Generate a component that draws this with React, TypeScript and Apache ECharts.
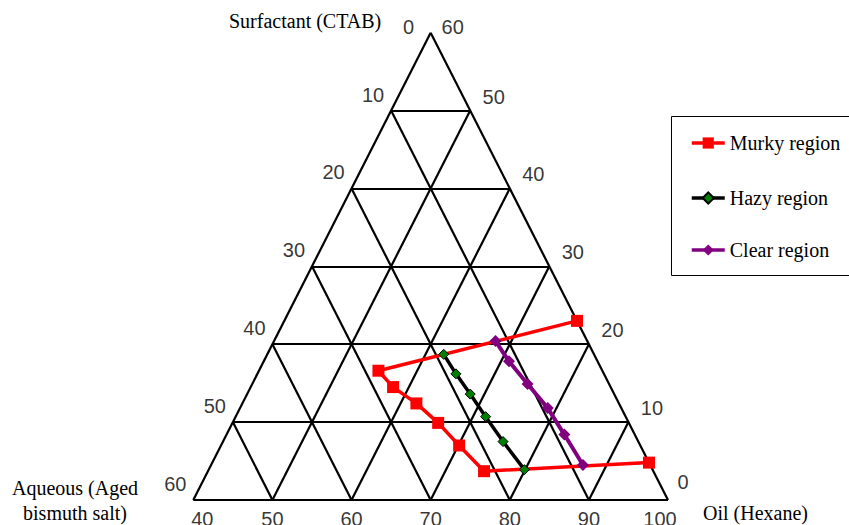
import { useEffect, useRef } from "react";
import * as echarts from "echarts";

// Tick values along each side of the partial ternary window
const aqueousTicks = [0, 10, 20, 30, 40, 50, 60];
const surfactantTicks = [0, 10, 20, 30, 40, 50, 60];
const oilTicks = [40, 50, 60, 70, 80, 90, 100];

// Phase boundaries, wt% (surfactant, oil, aqueous)
const murkySurfactant = [23.0, 16.6, 14.5, 12.4, 9.9, 7.0, 3.7, 4.8];
const murkyOil = [77.0, 55.1, 58.0, 62.0, 66.0, 70.1, 74.9, 95.2];
const murkyAqueous = [0.0, 28.3, 27.5, 25.6, 24.1, 22.9, 21.4, 0.0];

const hazySurfactant = [18.7, 16.2, 13.6, 10.7, 7.5, 3.9];
const hazyOil = [62.3, 65.1, 68.2, 71.6, 75.4, 79.9];
const hazyAqueous = [19.0, 18.7, 18.2, 17.7, 17.1, 16.2];

const clearSurfactant = [20.4, 17.8, 14.9, 11.8, 8.4, 4.5];
const clearOil = [68.0, 71.0, 74.8, 78.9, 82.7, 87.0];
const clearAqueous = [11.6, 11.2, 10.3, 9.3, 8.9, 8.5];

const seriesNames = ["Murky region", "Hazy region", "Clear region"];

// window: oil 40..100, surfactant 0..60, aqueous 0..60
const OIL_MIN = 40;
const SPAN = 60;

// ternary (surfactant, aqueous) -> cartesian (x along base, y = surfactant)
function project(surf: number, aq: number): [number, number] {
  return [SPAN - aq - surf / 2, surf];
}

function points(s: number[], o: number[], a: number[]) {
  return s.map((v, i) => {
    const aq = 100 - v - o[i];
    return project(v, Number.isFinite(a[i]) ? a[i] : aq);
  });
}

const NUM_FONT = "'Liberation Sans', Arial, sans-serif";
const SERIF = "'Liberation Serif', 'Times New Roman', serif";

export default function App() {
  const ref = useRef<HTMLDivElement>(null);

  useEffect(() => {
    if (!ref.current) return;
    const chart = echarts.init(ref.current, undefined, { renderer: "svg" });

    // triangle outline and inner grid
    const segs: [number, number][][] = [];
    segs.push([project(0, SPAN), project(0, 0)]);
    segs.push([project(0, 0), project(SPAN, 0)]);
    segs.push([project(SPAN, 0), project(0, SPAN)]);
    for (let k = 1; k < 6; k++) {
      const v = k * 10;
      // constant surfactant
      segs.push([project(v, SPAN - v), project(v, 0)]);
      // constant aqueous
      segs.push([project(0, v), project(SPAN - v, v)]);
      // constant oil
      const oil = OIL_MIN + v;
      const aqBase = 100 - oil;
      segs.push([project(0, aqBase), project(SPAN - v, 0)]);
    }

    // tick labels
    const labelItems: any[] = [];
    aqueousTicks.forEach((a) => {
      const off = a === 0 ? [-22, -6] : [-18, -16];
      labelItems.push({ value: project(SPAN - a, a), name: String(a), label: { offset: off } });
    });
    surfactantTicks.forEach((s) => {
      const off = s === SPAN ? [22, -6] : s === 0 ? [15, -18] : [23.5, -14];
      labelItems.push({ value: project(s, 0), name: String(s), label: { offset: off } });
    });
    oilTicks.forEach((o, i) => {
      const aq = 100 - o;
      const dx = i === 0 ? 9 : i === oilTicks.length - 1 ? -8 : 0;
      labelItems.push({ value: project(0, aq), name: String(o), label: { offset: [dx, 19] } });
    });

    const legendTops = [133, 188, 240];

    chart.setOption({
      animation: false,
      grid: { left: 193.3, top: 32.7, width: 474.7, height: 467.3, show: false },
      xAxis: { type: "value", min: 0, max: SPAN, show: false },
      yAxis: { type: "value", min: 0, max: SPAN, show: false },
      legend: seriesNames.map((n, i) => ({
        data: [n],
        orient: "vertical",
        left: 690,
        top: legendTops[i],
        padding: 0,
        itemWidth: 33,
        itemHeight: 14,
        selectedMode: false,
        lineStyle: { width: 3.5 },
        textStyle: { fontFamily: SERIF, fontSize: 20, color: "#000" },
      })),
      graphic: [
        {
          type: "rect",
          shape: { x: 671.5, y: 116.5, width: 200, height: 159 },
          style: { fill: "#fff", stroke: "#000", lineWidth: 1 },
          z: -10,
          silent: true,
        },
        {
          type: "text",
          x: 229,
          y: 21,
          style: { text: "Surfactant (CTAB)", fontFamily: SERIF, fontSize: 20, fill: "#000", align: "left", verticalAlign: "middle" },
        },
        {
          type: "text",
          x: 75,
          y: 500,
          style: {
            text: "Aqueous (Aged\nbismuth salt)",
            fontFamily: SERIF,
            fontSize: 20,
            lineHeight: 25,
            fill: "#000",
            align: "center",
            verticalAlign: "middle",
          },
        },
        {
          type: "text",
          x: 703,
          y: 513,
          style: { text: "Oil (Hexane)", fontFamily: SERIF, fontSize: 20, fill: "#000", align: "left", verticalAlign: "middle" },
        },
      ],
      series: [
        {
          type: "lines",
          coordinateSystem: "cartesian2d",
          silent: true,
          z: 1,
          lineStyle: { color: "#000", width: 2.2, opacity: 1 },
          data: segs.map((c) => ({ coords: c })),
        },
        {
          type: "scatter",
          silent: true,
          symbolSize: 1,
          itemStyle: { color: "rgba(0,0,0,0)" },
          z: 2,
          label: {
            show: true,
            position: "inside",
            formatter: "{b}",
            fontFamily: NUM_FONT,
            fontSize: 20,
            color: "#000",
            align: "center",
            verticalAlign: "middle",
          },
          data: labelItems,
        },
        {
          name: seriesNames[0],
          type: "line",
          clip: false,
          z: 3,
          symbol: "rect",
          symbolSize: 12,
          lineStyle: { color: "#ff0000", width: 3.5 },
          itemStyle: { color: "#ff0000" },
          data: points(murkySurfactant, murkyOil, murkyAqueous),
        },
        {
          name: seriesNames[1],
          type: "line",
          clip: false,
          z: 4,
          symbol: "diamond",
          symbolSize: 10,
          lineStyle: { color: "#000", width: 3.5 },
          itemStyle: { color: "#008000", borderColor: "#000", borderWidth: 1 },
          data: points(hazySurfactant, hazyOil, hazyAqueous),
        },
        {
          name: seriesNames[2],
          type: "line",
          clip: false,
          z: 5,
          symbol: "diamond",
          symbolSize: 12,
          lineStyle: { color: "#800080", width: 4 },
          itemStyle: { color: "#800080" },
          data: points(clearSurfactant, clearOil, clearAqueous),
        },
      ],
    });

    return () => chart.dispose();
  }, []);

  return (
    <div
      ref={ref}
      style={{ position: "fixed", left: 0, top: 0, width: 849, height: 525, background: "#fff" }}
    />
  );
}
